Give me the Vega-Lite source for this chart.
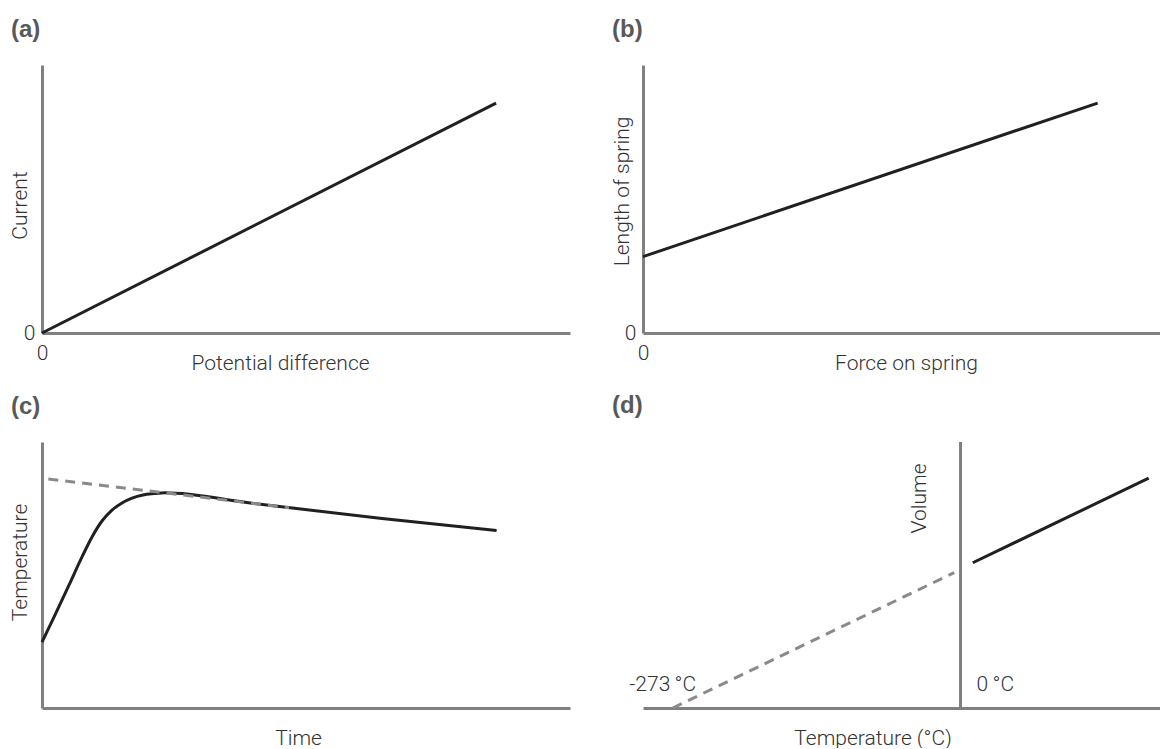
{
  "$schema": "https://vega.github.io/schema/vega-lite/v6.json",
  "background": "white",
  "padding": {"left": 9, "top": 18, "right": 0, "bottom": 0},
  "bounds": "flush",
  "columns": 2,
  "spacing": {"row": 109, "column": 73},
  "config": {
    "view": {"stroke": null},
    "font": "Roboto",
    "axis": {
      "domainColor": "#808080", "domainWidth": 3, "ticks": false, "tickSize": 0, "grid": false,
      "labelFont": "Roboto", "labelFontWeight": 300, "labelFontSize": 21, "labelColor": "#333333",
      "labelFlush": false,
      "titleFont": "Roboto", "titleFontWeight": 300, "titleFontSize": 21, "titleColor": "#333333"
    },
    "title": {"font": "Liberation Sans", "fontWeight": "bold", "fontSize": 24, "color": "#58595b", "anchor": "start", "frame": "group", "dx": -31, "offset": 23}
  },
  "datasets": {
    "a": [{"x": 0, "y": 0}, {"x": 86, "y": 85.8}],
    "b": [{"x": 0, "y": 28.5}, {"x": 87.6, "y": 85.8}],
    "c_solid": [
      {"x": 0, "y": 24.8}, {"x": 2.27, "y": 34.2}, {"x": 5.11, "y": 46.2}, {"x": 7.58, "y": 56.8},
      {"x": 9.47, "y": 64.3}, {"x": 11.36, "y": 70.3}, {"x": 13.26, "y": 74.4}, {"x": 15.15, "y": 77.1},
      {"x": 17.05, "y": 78.9}, {"x": 19.13, "y": 80.1}, {"x": 21.2, "y": 80.6}, {"x": 23.3, "y": 80.9},
      {"x": 39.8, "y": 77.0}, {"x": 64.4, "y": 71.2}, {"x": 86.1, "y": 66.7}
    ],
    "c_dash": [{"x": 1.2, "y": 86.1}, {"x": 46.8, "y": 75.3}],
    "d_solid": [{"x": 11.6, "y": 54.6}, {"x": 178.5, "y": 86.4}],
    "d_dash": [{"x": -273, "y": 0}, {"x": -6, "y": 50.9}],
    "d_axis": [{"x": 0, "y": 0, "y2": 100}],
    "d_labels": [{"x": -273, "y": 0, "label": "-273\u2009°C"}, {"x": 0, "y": 0, "label": "0\u2009°C"}]
  },
  "concat": [
    {
      "title": {"text": "(a)"},
      "width": 528, "height": 268,
      "data": {"name": "a"},
      "mark": {"type": "line", "color": "#231f20", "strokeWidth": 3},
      "encoding": {
        "x": {"field": "x", "type": "quantitative", "scale": {"domain": [0, 100], "nice": false, "zero": false},
          "axis": {"values": [0], "title": "Potential difference", "labelPadding": 9, "titleX": 238, "titleY": 30, "titleBaseline": "middle", "titleAlign": "center"}},
        "y": {"field": "y", "type": "quantitative", "scale": {"domain": [0, 100], "nice": false, "zero": false},
          "axis": {"values": [0], "title": "Current", "labelPadding": 7, "labelBaseline": "middle", "titleX": -21.5, "titleY": 140, "titleAngle": 270, "titleBaseline": "middle", "titleAlign": "center"}}
      }
    },
    {
      "title": {"text": "(b)"},
      "width": 519, "height": 268,
      "data": {"name": "b"},
      "mark": {"type": "line", "color": "#231f20", "strokeWidth": 3},
      "encoding": {
        "x": {"field": "x", "type": "quantitative", "scale": {"domain": [0, 100], "nice": false, "zero": false},
          "axis": {"values": [0], "title": "Force on spring", "labelPadding": 9, "titleX": 263, "titleY": 30, "titleBaseline": "middle", "titleAlign": "center"}},
        "y": {"field": "y", "type": "quantitative", "scale": {"domain": [0, 100], "nice": false, "zero": false},
          "axis": {"values": [0], "title": "Length of spring", "labelPadding": 7, "labelBaseline": "middle", "titleX": -20.3, "titleY": 126, "titleAngle": 270, "titleBaseline": "middle", "titleAlign": "center"}}
      }
    },
    {
      "title": {"text": "(c)"},
      "width": 528, "height": 266,
      "layer": [
        {
          "data": {"name": "c_solid"},
          "mark": {"type": "line", "color": "#231f20", "strokeWidth": 3, "interpolate": "monotone"},
          "encoding": {
            "x": {"field": "x", "type": "quantitative", "scale": {"domain": [0, 100], "nice": false, "zero": false},
              "axis": {"labels": false, "title": "Time", "titleX": 256, "titleY": 30, "titleBaseline": "middle", "titleAlign": "center"}},
            "y": {"field": "y", "type": "quantitative", "scale": {"domain": [0, 100], "nice": false, "zero": false},
              "axis": {"labels": false, "title": "Temperature", "titleX": -21.5, "titleY": 120, "titleAngle": 270, "titleBaseline": "middle", "titleAlign": "center"}}
          }
        },
        {
          "data": {"name": "c_dash"},
          "mark": {"type": "line", "color": "#8a8a8a", "strokeWidth": 3, "strokeDash": [10, 7]},
          "encoding": {
            "x": {"field": "x", "type": "quantitative"},
            "y": {"field": "y", "type": "quantitative"}
          }
        }
      ]
    },
    {
      "title": {"text": "(d)"},
      "width": 519, "height": 266,
      "layer": [
        {
          "data": {"name": "d_axis"},
          "mark": {"type": "rule", "color": "#808080", "strokeWidth": 3},
          "encoding": {
            "x": {"field": "x", "type": "quantitative", "scale": {"domain": [-301.2, 191.1], "nice": false, "zero": false},
              "axis": {"labels": false, "title": "Temperature (°C)", "titleX": 229.5, "titleY": 30, "titleBaseline": "middle", "titleAlign": "center"}},
            "y": {"field": "y", "type": "quantitative", "scale": {"domain": [0, 100], "nice": false, "zero": false},
              "axis": {"labels": false, "domain": false, "title": "Volume", "titleX": 276, "titleY": 56, "titleAngle": 270, "titleBaseline": "middle", "titleAlign": "center"}},
            "y2": {"field": "y2"}
          }
        },
        {
          "data": {"name": "d_dash"},
          "mark": {"type": "line", "color": "#8a8a8a", "strokeWidth": 3, "strokeDash": [10, 7]},
          "encoding": {
            "x": {"field": "x", "type": "quantitative"},
            "y": {"field": "y", "type": "quantitative"}
          }
        },
        {
          "data": {"name": "d_solid"},
          "mark": {"type": "line", "color": "#231f20", "strokeWidth": 3},
          "encoding": {
            "x": {"field": "x", "type": "quantitative"},
            "y": {"field": "y", "type": "quantitative"}
          }
        },
        {
          "data": {"name": "d_labels"},
          "transform": [{"filter": "datum.x < 0"}],
          "mark": {"type": "text", "font": "Roboto", "fontWeight": 300, "fontSize": 21, "color": "#333333", "align": "center", "baseline": "middle", "dx": -10, "dy": -23},
          "encoding": {
            "x": {"field": "x", "type": "quantitative"},
            "y": {"field": "y", "type": "quantitative"},
            "text": {"field": "label"}
          }
        },
        {
          "data": {"name": "d_labels"},
          "transform": [{"filter": "datum.x >= 0"}],
          "mark": {"type": "text", "font": "Roboto", "fontWeight": 300, "fontSize": 21, "color": "#333333", "align": "left", "baseline": "middle", "dx": 16, "dy": -23},
          "encoding": {
            "x": {"field": "x", "type": "quantitative"},
            "y": {"field": "y", "type": "quantitative"},
            "text": {"field": "label"}
          }
        }
      ]
    }
  ]
}
